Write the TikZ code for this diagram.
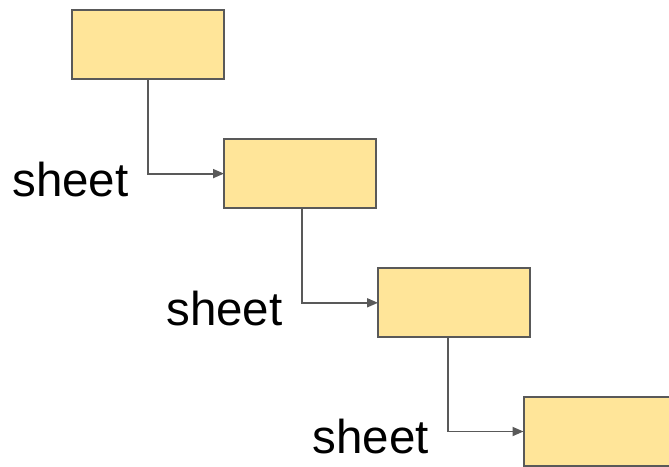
\documentclass[tikz,border=0pt]{standalone}
\usepackage{fontspec}
\setmainfont{Liberation Sans}
\usetikzlibrary{arrows.meta,calc}
\definecolor{boxfill}{HTML}{FFE599}
\definecolor{edge}{HTML}{595959}
\tikzset{
  box/.style={draw=edge, fill=boxfill, line width=2pt, minimum width=152pt, minimum height=69pt, inner sep=0pt, outer sep=0pt},
  conn/.style={draw=edge, line width=1.8pt, -{Triangle[length=11pt,width=9pt]}},
  lbl/.style={inner sep=0pt, anchor=base east, font=\fontsize{47.5}{56}\selectfont}
}
\begin{document}
\begin{tikzpicture}[x=1pt,y=-1pt]
\useasboundingbox (0,0) rectangle (669,466);
\clip (0,0) rectangle (669,466);
\node[box] (b1) at (147.5,44.3) {};
\node[box] (b2) at (300,173.6) {};
\node[box] (b3) at (454,302.8) {};
\node[box] (b4) at (599.5,431.5) {};
\coordinate (c1) at ($(b1.south)+(0.3,0)$);
\coordinate (c2) at ($(b2.south)+(1.7,0)$);
\coordinate (c3) at ($(b3.south)+(-6,0)$);
\draw[conn] (c1) |- (b2.west);
\draw[conn] (c2) |- (b3.west);
\draw[conn] (c3) |- (b4.west);
\node[lbl] (l1) at ($(c1|-b2.west)+(-19,23)$) {sheet};
\node[lbl] (l2) at ($(c2|-b3.west)+(-19,23)$) {sheet};
\node[lbl] (l3) at ($(c3|-b4.west)+(-19,22)$) {sheet};
\end{tikzpicture}
\end{document}
